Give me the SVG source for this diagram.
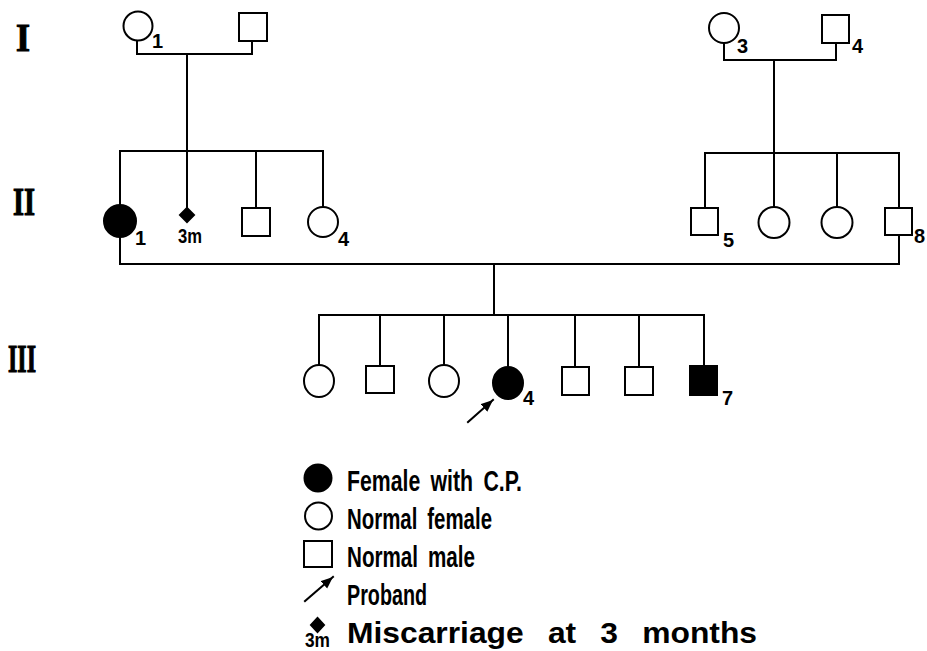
<svg xmlns="http://www.w3.org/2000/svg" width="927" height="651" viewBox="0 0 927 651">
<style>
.ln{fill:none;stroke:#000;stroke-width:2;stroke-linecap:square}
.open{fill:#fff;stroke:#000;stroke-width:2}
.fill{fill:#000;stroke:#000;stroke-width:2}
.num{font-family:"Liberation Sans Narrow","Liberation Sans",Arial,sans-serif;font-weight:bold;font-size:20px;fill:#000}
.gen{font-family:"Liberation Serif","Times New Roman",serif;font-weight:bold;font-size:41px;fill:#000;stroke:#000;stroke-width:1.2}
.leg{font-family:"Liberation Sans Narrow","Liberation Sans",Arial,sans-serif;font-weight:bold;font-size:29px;fill:#000}
</style>
<defs>
<marker id="ah" markerUnits="userSpaceOnUse" markerWidth="14" markerHeight="12" refX="12" refY="5" orient="auto">
<path d="M0,0 L12,5 L0,10 Z" fill="#000"/>
</marker>
</defs>
<rect x="0" y="0" width="927" height="651" fill="#fff"/>

<g id="generation-labels">
<text class="gen" x="16" y="51" textLength="14" lengthAdjust="spacingAndGlyphs">I</text>
<text class="gen" x="13" y="215" textLength="22" lengthAdjust="spacingAndGlyphs">II</text>
<text class="gen" x="8" y="372" textLength="28" lengthAdjust="spacingAndGlyphs">III</text>
</g>

<g id="connectors">
<path class="ln" d="M137,40 V54 H252 V41"/>
<path class="ln" d="M187,54 V151"/>
<path class="ln" d="M120,205 V151 H323 V207"/>
<path class="ln" d="M187,151 V207"/>
<path class="ln" d="M256,151 V208"/>
<path class="ln" d="M724,43 V60 H836 V43"/>
<path class="ln" d="M774,60 V207"/>
<path class="ln" d="M705,208 V153 H899 V208"/>
<path class="ln" d="M837,153 V207"/>
<path class="ln" d="M120,237 V264 H899 V235"/>
<path class="ln" d="M494,264 V315"/>
<path class="ln" d="M319,365 V315 H704 V366"/>
<path class="ln" d="M380,315 V366"/>
<path class="ln" d="M444,315 V365"/>
<path class="ln" d="M508,315 V367"/>
<path class="ln" d="M575,315 V367"/>
<path class="ln" d="M639,315 V367"/>
<path class="ln" d="M468,422 L493,400" marker-end="url(#ah)"/>
</g>

<g id="I-1"><circle class="open" cx="138" cy="26" r="14.5"/><text class="num" x="152" y="48">1</text></g>
<g id="I-2"><rect class="open" x="239" y="13" width="28" height="28"/></g>
<g id="I-3"><circle class="open" cx="724" cy="28" r="15"/><text class="num" x="737" y="53">3</text></g>
<g id="I-4"><rect class="open" x="822" y="15" width="27" height="28"/><text class="num" x="852" y="53">4</text></g>

<g id="II-1"><circle class="fill" cx="120" cy="221" r="16"/><text class="num" x="135" y="245">1</text></g>
<g id="II-2"><polygon class="fill" points="187,208 194,215 187,222 180,215"/><text class="num" x="178" y="243" font-size="18" textLength="24" lengthAdjust="spacingAndGlyphs">3m</text></g>
<g id="II-3"><rect class="open" x="242" y="208" width="28" height="28"/></g>
<g id="II-4"><circle class="open" cx="323" cy="222" r="15"/><text class="num" x="338" y="246">4</text></g>
<g id="II-5"><rect class="open" x="691" y="208" width="27" height="27"/><text class="num" x="723" y="247">5</text></g>
<g id="II-6"><circle class="open" cx="774" cy="222.5" r="15.5"/></g>
<g id="II-7"><circle class="open" cx="837" cy="222.5" r="15.5"/></g>
<g id="II-8"><rect class="open" x="885" y="208" width="27" height="27"/><text class="num" x="914" y="243">8</text></g>

<g id="III-1"><ellipse class="open" cx="319" cy="381" rx="15" ry="16"/></g>
<g id="III-2"><rect class="open" x="366" y="366" width="28" height="27"/></g>
<g id="III-3"><ellipse class="open" cx="444" cy="381" rx="15" ry="16"/></g>
<g id="III-4"><ellipse class="fill" cx="508" cy="383" rx="15" ry="16"/><text class="num" x="523" y="405">4</text></g>
<g id="III-5"><rect class="open" x="562" y="367" width="27" height="28"/></g>
<g id="III-6"><rect class="open" x="625" y="367" width="28" height="28"/></g>
<g id="III-7"><rect class="fill" x="690" y="366" width="27" height="29"/><text class="num" x="722" y="405">7</text></g>

<g id="legend">
<circle class="fill" cx="318" cy="478" r="13.5"/>
<text class="leg" x="347" y="491" word-spacing="6" textLength="175" lengthAdjust="spacingAndGlyphs">Female with C.P.</text>
<circle class="open" cx="318.5" cy="516" r="13.5"/>
<text class="leg" x="347" y="529" word-spacing="6" textLength="145" lengthAdjust="spacingAndGlyphs">Normal female</text>
<rect class="open" x="304" y="541" width="28" height="26"/>
<text class="leg" x="347" y="567" word-spacing="6" textLength="128" lengthAdjust="spacingAndGlyphs">Normal male</text>
<path class="ln" d="M305,601 L333,577" marker-end="url(#ah)"/>
<text class="leg" x="347" y="605" textLength="80" lengthAdjust="spacingAndGlyphs">Proband</text>
<polygon class="fill" points="317.5,618 324,625 317.5,632 311,625"/>
<text class="num" x="305" y="647" font-size="15" textLength="25" lengthAdjust="spacingAndGlyphs">3m</text>
<text class="leg" x="347" y="643" word-spacing="14" textLength="410" lengthAdjust="spacingAndGlyphs">Miscarriage at 3 months</text>
</g>
</svg>
